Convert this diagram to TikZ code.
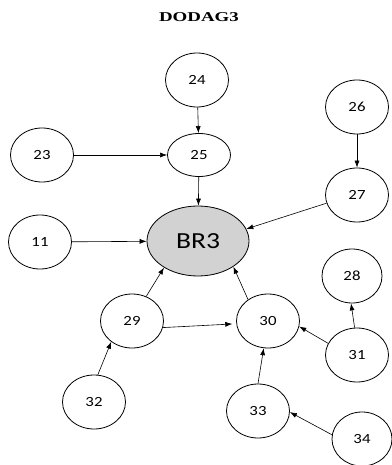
\documentclass[tikz,border=0pt]{standalone}
\usepackage{fontspec}
\usepackage{tikz}
\usetikzlibrary{arrows.meta, shapes.geometric, positioning}
\newfontfamily\nodefont[FakeStretch=1.2]{Carlito}
\newfontfamily\titlefont[FakeStretch=1.4]{Liberation Serif}
\tikzset{
    sensor/.style={ellipse, draw=black, thick, fill=white, inner sep=0pt, minimum width=63pt, minimum height=54pt, font=\nodefont\fontsize{14}{16}\selectfont},
    root/.style={ellipse, draw=black, thick, fill=gray!35, inner sep=0pt, minimum width=102pt, minimum height=70pt, font=\nodefont\fontsize{23}{26}\selectfont},
    link/.style={-{Latex[length=7pt, width=5pt]}, semithick}
}

\begin{document}
\begin{tikzpicture}[x=1pt, y=-1pt]
    \useasboundingbox (0,0) rectangle (391,465);

    \node[font=\titlefont\bfseries\fontsize{13.5}{15}\selectfont] (title) at (199,17) {DODAG3};

    % border router
    \node[root] (br3) at (198,241) {BR3};

    \node[sensor] (n24) at (197,80) {24};
    \node[sensor] (n26) at (357,107) {26};
    \node[sensor] (n23) at (42,155) {23};
    \node[sensor, minimum height=43pt] (n25) at (199,155) {25};
    \node[sensor] (n27) at (357,195) {27};
    \node[sensor] (n11) at (40,242) {11};
    \node[sensor, minimum width=60pt] (n28) at (352,276) {28};
    \node[sensor] (n29) at (132,321) {29};
    \node[sensor] (n30) at (268,321) {30};
    \node[sensor] (n31) at (357,355) {31};
    \node[sensor] (n32) at (94,402) {32};
    \node[sensor] (n33) at (258,411) {33};
    \node[sensor, minimum width=60pt] (n34) at (362,439) {34};

    % upward routes
    \draw[link] (n24) -- (n25);
    \draw[link] (n23) -- (n25);
    \draw[link] (n25) -- (br3);
    \draw[link] (n26) -- (n27);
    \draw[link] (n27.195) -- (br3.14);
    \draw[link] (n11) -- (br3);
    \draw[link] (n29.60) -- (br3.218);
    \draw[link] (n30.133) -- (br3.324);
    \draw[link, shorten >=4pt] (n29.348) -- (n30.185);
    \draw[link] (n31.95) -- (n28.268);
    \draw[link] (n31.158) -- (n30.350);
    \draw[link] (n32.82) -- (n29.225);
    \draw[link] (n33.90) -- (n30.261);
    \draw[link] (n34.172) -- (n33.358);
\end{tikzpicture}
\end{document}
